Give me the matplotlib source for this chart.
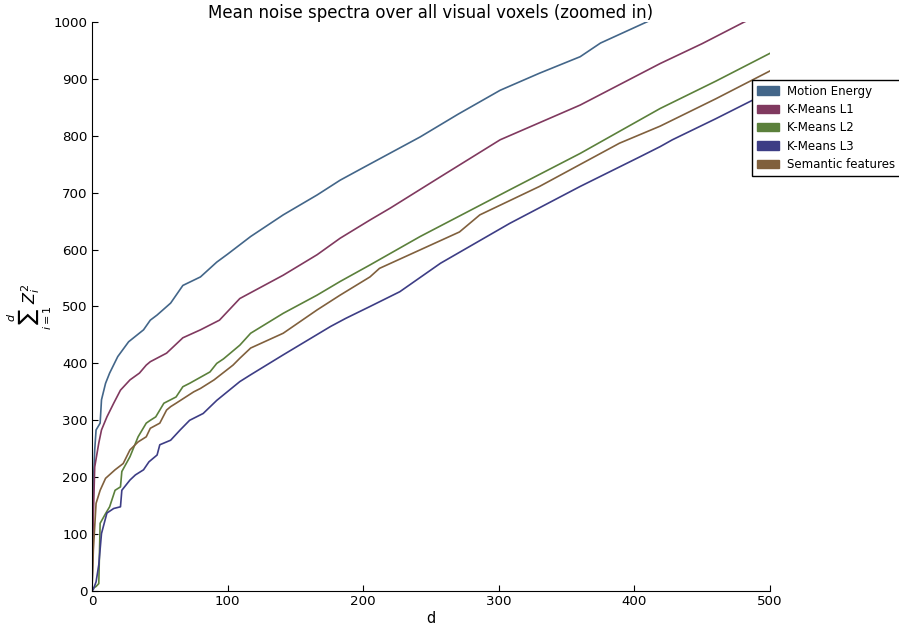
import matplotlib
matplotlib.use("Agg")
import matplotlib.pyplot as plt
from matplotlib.patches import Patch

labels = ["Motion Energy", "K-Means L1", "K-Means L2", "K-Means L3", "Semantic features"]
colors = ["#436689", "#80395f", "#5b803b", "#3d3d85", "#80603d"]

d_me = [0, 1, 2, 3, 6, 7, 10, 13, 19, 27, 38, 43, 48, 58, 67, 80, 92, 100, 117, 141, 166, 183, 200, 242, 270, 301, 330, 360, 375, 409, 420]
v_me = [0, 189, 248, 283, 295, 336, 365, 383, 412, 438, 459, 476, 485, 506, 537, 552, 578, 592, 623, 661, 696, 722, 744, 798, 838, 880, 910, 939, 963, 1000, 1012]

d_l1 = [0, 1, 2, 5, 7, 11, 16, 21, 28, 35, 40, 43, 55, 67, 80, 94, 109, 141, 166, 183, 205, 220, 257, 301, 360, 419, 450, 481, 490]
v_l1 = [0, 131, 218, 260, 283, 306, 330, 353, 371, 383, 397, 403, 418, 445, 459, 476, 514, 555, 591, 620, 652, 673, 728, 793, 854, 927, 962, 1000, 1010]

d_l2 = [0, 1, 3, 5, 6, 10, 13, 17, 21, 22, 28, 34, 40, 43, 47, 53, 62, 67, 72, 87, 92, 97, 109, 117, 141, 166, 183, 205, 242, 308, 360, 419, 460, 500]
v_l2 = [0, 5, 8, 13, 119, 136, 148, 177, 183, 210, 236, 271, 295, 300, 306, 330, 341, 359, 365, 385, 400, 408, 432, 453, 488, 520, 544, 573, 623, 705, 769, 848, 896, 945]

d_l3 = [0, 1, 3, 5, 7, 11, 16, 21, 22, 28, 32, 38, 42, 48, 50, 58, 65, 72, 82, 92, 109, 117, 141, 176, 187, 205, 227, 257, 308, 360, 404, 419, 428, 460, 500]
v_l3 = [0, 3, 16, 46, 101, 137, 145, 148, 177, 195, 204, 213, 227, 239, 257, 265, 283, 300, 312, 335, 368, 380, 415, 465, 479, 500, 526, 576, 646, 711, 763, 781, 793, 830, 878]

d_sem = [0, 1, 3, 6, 10, 17, 23, 28, 34, 40, 43, 50, 55, 58, 62, 75, 80, 90, 104, 109, 117, 141, 166, 183, 205, 212, 271, 286, 330, 389, 419, 460, 500]
v_sem = [0, 72, 154, 177, 198, 213, 224, 248, 262, 271, 286, 295, 318, 324, 330, 350, 356, 371, 397, 409, 427, 453, 494, 520, 552, 567, 631, 661, 711, 787, 817, 865, 914]

series_d = [d_me, d_l1, d_l2, d_l3, d_sem]
series_v = [v_me, v_l1, v_l2, v_l3, v_sem]

fig = plt.figure(figsize=(8.99, 6.26), dpi=100)
ax = fig.add_axes([92/899, 1-591/626, (770-92)/899, (591-22)/626])

for dd, vv, c in zip(series_d, series_v, colors):
    ax.plot(dd, vv, color=c, lw=1.2)

ax.set_xlim(0, 500)
ax.set_ylim(0, 1000)
ax.set_xticks([0, 100, 200, 300, 400, 500])
ax.set_yticks(range(0, 1001, 100))
ax.spines["top"].set_visible(False)
ax.spines["right"].set_visible(False)
ax.tick_params(direction="in", length=4, labelsize=9.6, top=False, right=False, pad=3)
ax.set_title("Mean noise spectra over all visual voxels (zoomed in)", fontsize=12, pad=3)
ax.set_xlabel("d", fontsize=10.5, labelpad=2)
ax.set_ylabel(r"$\sum_{i=1}^{d}\,Z_i^2$", fontsize=11.5, labelpad=0)

handles = [Patch(facecolor=c, edgecolor=c) for c in colors]
leg = ax.legend(handles, labels, loc="upper left", bbox_to_anchor=(0.9735, 0.898),
                borderaxespad=0, fontsize=8.5, fancybox=False, framealpha=1,
                edgecolor="black", handlelength=1.85, handleheight=0.7,
                handletextpad=0.7, labelspacing=0.45, borderpad=0.4)
leg.get_frame().set_linewidth(1.0)

fig.savefig("out.png", dpi=100)
